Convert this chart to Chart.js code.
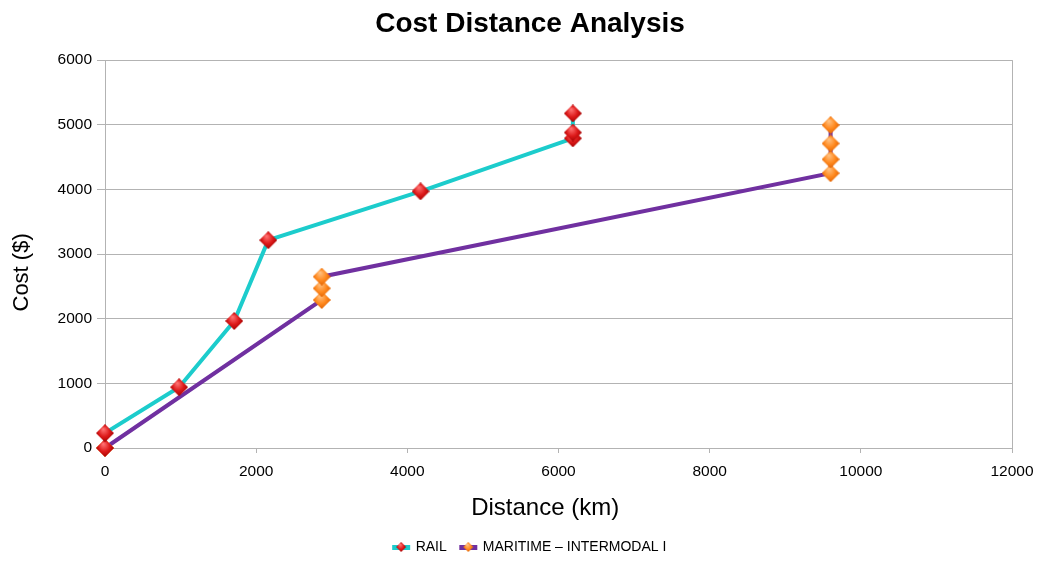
<!DOCTYPE html>
<html>
<head>
<meta charset="utf-8">
<title>Cost Distance Analysis</title>
<script src="https://cdn.jsdelivr.net/npm/chart.js"></script>
<style>
  body { margin: 0; background: #fff; }
  #wrap { width: 1040px; height: 561px; }
</style>
</head>
<body>
<div id="wrap"><canvas id="chart" width="1040" height="561"></canvas></div>
<script>
// values
var railDistance = [0, 0, 980, 1710, 2160, 4175, 6190, 6190, 6190];
var railCost = [0, 230, 940, 1965, 3215, 3970, 4790, 4880, 5175];
var maritimeDistance = [0, 2867, 2867, 2867, 9600, 9600, 9600, 9600];
var maritimeCost = [0, 2290, 2470, 2650, 4250, 4465, 4710, 4995];
var xTicks = [0, 2000, 4000, 6000, 8000, 10000, 12000];
var yTicks = [0, 1000, 2000, 3000, 4000, 5000, 6000];

var gridGray = '#b3b3b3';

// 3d-ish diamond marker
function diamond(size, light, mid, dark) {
  var c = document.createElement('canvas');
  c.width = size; c.height = size;
  var g = c.getContext('2d');
  var h = size / 2;
  g.beginPath();
  g.moveTo(h, 0); g.lineTo(size, h); g.lineTo(h, size); g.lineTo(0, h);
  g.closePath();
  var grad = g.createRadialGradient(h * 0.8, h * 0.55, 0.5, h, h, h * 1.05);
  grad.addColorStop(0, light);
  grad.addColorStop(0.55, mid);
  grad.addColorStop(1, dark);
  g.fillStyle = grad;
  g.fill();
  return c;
}

function legendIcon(lineColor, marker) {
  var c = document.createElement('canvas');
  c.width = 20; c.height = 12;
  var g = c.getContext('2d');
  g.fillStyle = lineColor;
  g.fillRect(1, 4, 18, 5);
  g.drawImage(marker, 5, 1);
  return c;
}

var railMarker = diamond(18, '#ff7070', '#dd1a1a', '#a00000');
var seaMarker = diamond(18, '#ffc080', '#ff8a20', '#e06000');
var icons = [
  legendIcon('#1ccccc', diamond(10, '#ff7070', '#dd1a1a', '#a00000')),
  legendIcon('#7030a0', diamond(10, '#ffc080', '#ff8a20', '#e06000'))
];

var railPoints = railDistance.map(function (d, i) { return { x: d, y: railCost[i] }; });
var seaPoints = maritimeDistance.map(function (d, i) { return { x: d, y: maritimeCost[i] }; });

Chart.defaults.font.family = '"Liberation Sans", Arial, sans-serif';
Chart.defaults.color = '#000';

function plain(v) { return String(v); }

new Chart('chart', {
  type: 'scatter',
  data: {
    datasets: [{
      label: 'RAIL',
      data: railPoints,
      showLine: true,
      borderColor: '#1ccccc',
      borderWidth: 4,
      pointStyle: railMarker,
      pointRadius: 9,
      clip: false,
      yAxisID: 'y'
    }, {
      label: 'MARITIME – INTERMODAL I',
      data: seaPoints,
      showLine: true,
      borderColor: '#7030a0',
      borderWidth: 4,
      pointStyle: seaMarker,
      pointRadius: 9,
      clip: false,
      yAxisID: 'y'
    }]
  },
  options: {
    responsive: false,
    animation: false,
    devicePixelRatio: 1,
    layout: { padding: { left: 20, right: 0, top: 0, bottom: -3 } },
    plugins: {
      title: {
        display: true,
        text: 'Cost Distance Analysis',
        font: { size: 28, weight: 'bold' },
        padding: { top: 7, bottom: 19.5 }
      },
      legend: {
        position: 'bottom',
        labels: {
          usePointStyle: true,
          pointStyleWidth: 15,
          padding: 14,
          font: { size: 14 },
          generateLabels: function (chart) {
            return chart.data.datasets.map(function (ds, i) {
              return {
                text: ds.label,
                pointStyle: icons[i],
                fillStyle: 'transparent',
                strokeStyle: 'transparent',
                lineWidth: 0,
                hidden: false,
                datasetIndex: i,
                fontColor: '#000'
              };
            });
          }
        }
      },
      tooltip: { enabled: false }
    },
    scales: {
      x: {
        type: 'linear',
        min: 0,
        max: 12000,
        afterBuildTicks: function (s) { s.ticks = xTicks.map(function (v) { return { value: v }; }); },
        afterFit: function (s) { s.height = 78; },
        ticks: { font: { size: 15.5, lineHeight: 1.65 }, padding: 6, maxRotation: 0, callback: plain },
        grid: {
          color: function (ctx) { return ctx.tick && ctx.tick.value === 12000 ? gridGray : 'rgba(0,0,0,0)'; },
          tickColor: gridGray,
          tickLength: 5
        },
        border: { color: gridGray },
        title: {
          display: true,
          text: 'Distance (km)    ',
          font: { size: 24 },
          padding: { top: 0, bottom: 3 }
        }
      },
      y: {
        type: 'linear',
        min: 0,
        max: 6000,
        afterBuildTicks: function (s) { s.ticks = yTicks.map(function (v) { return { value: v }; }); },
        afterFit: function (s) { s.width = 85; },
        ticks: { font: { size: 15.5 }, padding: 5, callback: plain },
        grid: { color: gridGray, tickColor: gridGray, tickLength: 8 },
        border: { color: gridGray },
        title: {
          display: true,
          text: 'Cost ($)      ',
          font: { size: 22 },
          padding: { top: -11, bottom: 0 }
        }
      },
      yRight: {
        type: 'linear',
        position: 'right',
        display: true,
        grid: { display: false },
        border: { display: false },
        ticks: { display: false },
        afterFit: function (s) { s.width = 28; }
      }
    }
  }
});
</script>
</body>
</html>
